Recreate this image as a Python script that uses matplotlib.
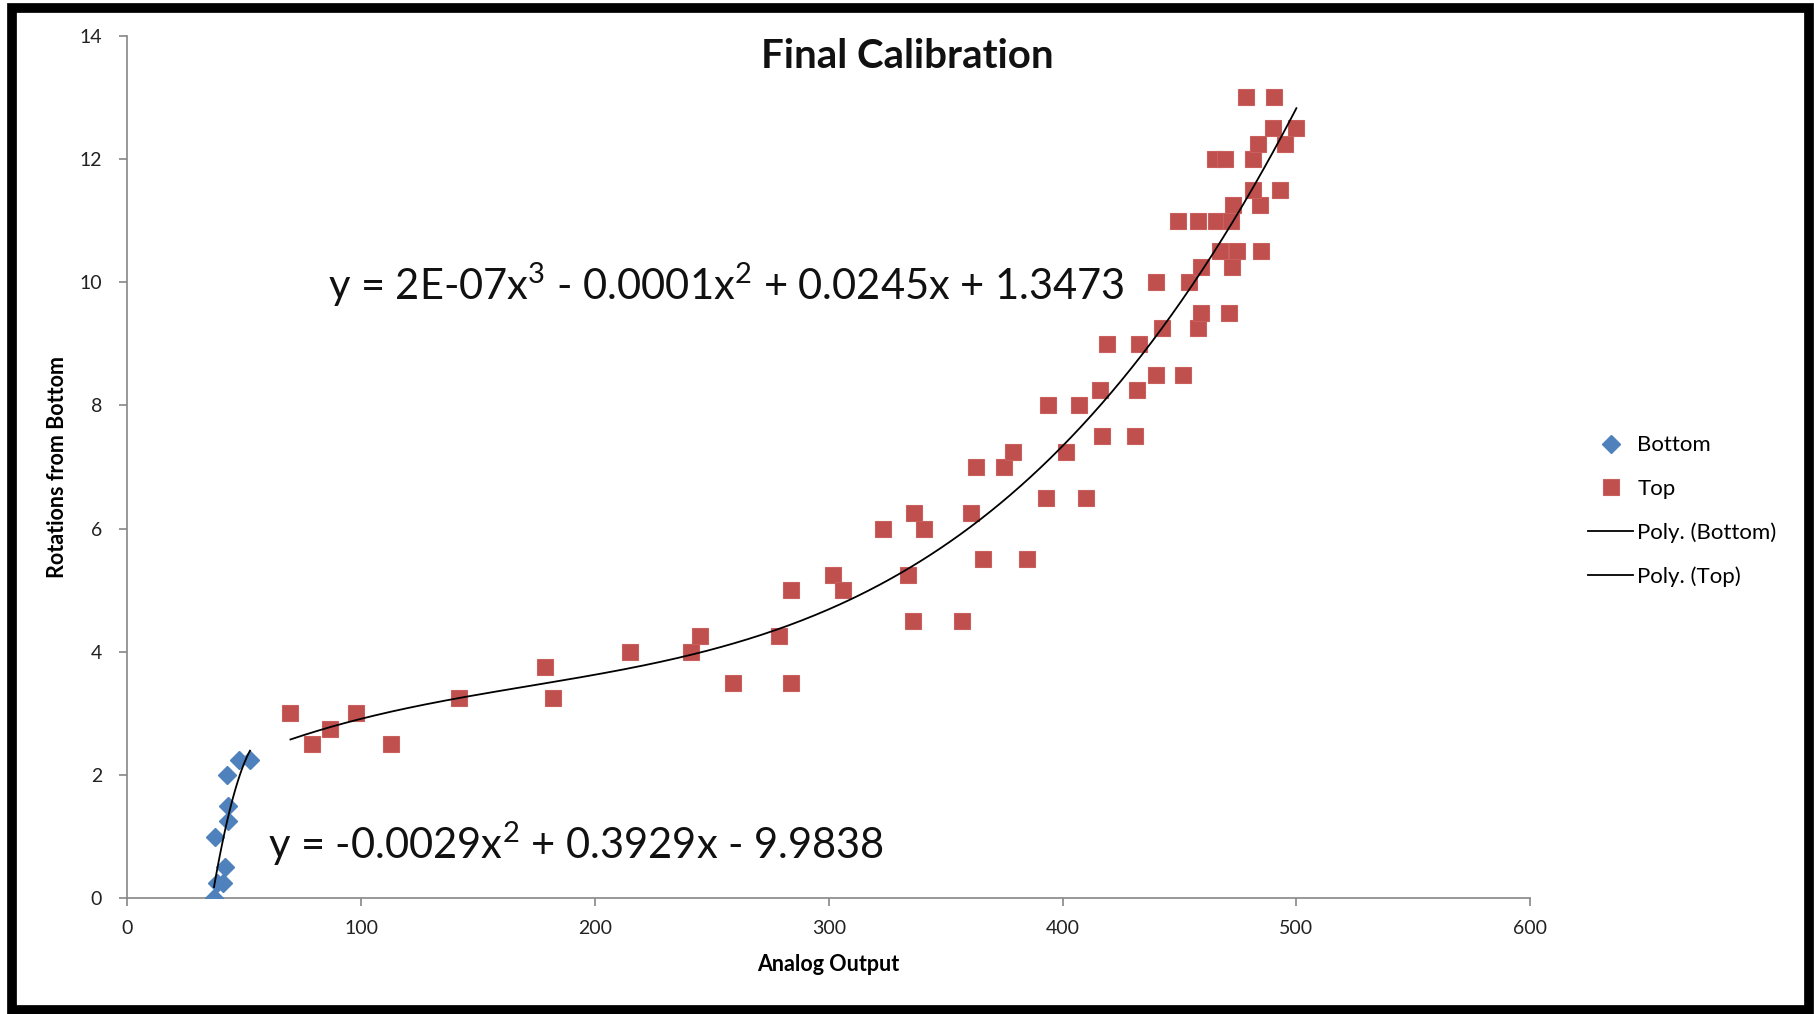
import numpy as np
import matplotlib
matplotlib.use("Agg")
import matplotlib.pyplot as plt
from matplotlib.patches import Rectangle

plt.rcParams["font.family"] = ["Lato", "DejaVu Sans"]
plt.rcParams["mathtext.fontset"] = "custom"
plt.rcParams["mathtext.rm"] = "Lato"
plt.rcParams["mathtext.it"] = "Lato"
plt.rcParams["mathtext.default"] = "regular"

# Bottom series (blue diamonds)
bottom_x = [37.1, 38.6, 41.0, 42.0, 37.6, 43.0, 43.0, 42.6, 48.0, 52.5]
bottom_y = [0.0, 0.25, 0.25, 0.5, 1.0, 1.25, 1.5, 2.0, 2.25, 2.25]

# Top series (red squares)
top_x = [69.8, 79.2, 86.6, 98.0, 113.0, 142.0, 178.7, 182.0, 215.0, 241.0,
         245.0, 259.0, 278.7, 283.7, 283.7, 302.0, 306.0, 323.0, 334.0, 336.0,
         336.6, 340.6, 357.0, 361.0, 363.0, 366.0, 375.0, 378.7, 384.7, 393.0,
         393.6, 401.5, 407.0, 410.0, 416.0, 417.0, 419.0, 431.0, 432.0, 432.7,
         440.0, 440.0, 442.5, 451.5, 449.5, 454.0, 458.0, 459.0, 459.0, 458.0,
         465.5, 472.0, 465.0, 469.5, 481.5, 467.5, 474.5, 485.0, 471.0, 472.5,
         473.0, 484.5, 478.5, 490.5, 481.5, 493.0, 483.6, 495.0, 490.0, 500.0]
top_y = [3.0, 2.5, 2.75, 3.0, 2.5, 3.25, 3.75, 3.25, 4.0, 4.0,
         4.25, 3.5, 4.25, 3.5, 5.0, 5.25, 5.0, 6.0, 5.25, 4.5,
         6.25, 6.0, 4.5, 6.25, 7.0, 5.5, 7.0, 7.25, 5.5, 6.5,
         8.0, 7.25, 8.0, 6.5, 8.25, 7.5, 9.0, 7.5, 8.25, 9.0,
         8.5, 10.0, 9.25, 8.5, 11.0, 10.0, 9.25, 9.5, 10.25, 11.0,
         11.0, 11.0, 12.0, 12.0, 12.0, 10.5, 10.5, 10.5, 9.5, 10.25,
         11.25, 11.25, 13.0, 13.0, 11.5, 11.5, 12.25, 12.25, 12.5, 12.5]

title = "Final Calibration"
eq_top = "y = 2E-07x$^{3}$ - 0.0001x$^{2}$ + 0.0245x + 1.3473"
eq_bottom = "y = -0.0029x$^{2}$ + 0.3929x - 9.9838"

fig = plt.figure(figsize=(18.15, 10.14), dpi=100)
ax = fig.add_axes([0.0701, 0.1142, 0.773, 0.8504])

ax.plot(bottom_x, bottom_y, "D", color="#4F81BD", ms=9, mec="#4F81BD", label="Bottom", zorder=3)
ax.plot(top_x, top_y, "s", color="#C0504D", ms=12, mec="#C9605D", mew=0.8, label="Top", zorder=3)

# polynomial trendlines like Excel
bx = np.linspace(min(bottom_x), max(bottom_x), 100)
bfit = np.polyfit(bottom_x, bottom_y, 2)
ax.plot(bx, np.polyval(bfit, bx), color="black", lw=1.3, label="Poly. (Bottom)", zorder=4)
tx = np.linspace(min(top_x), max(top_x), 300)
tfit = np.polyfit(top_x, top_y, 3)
ax.plot(tx, np.polyval(tfit, tx), color="black", lw=1.3, label="Poly. (Top)", zorder=4)

ax.set_xlim(0, 600)
ax.set_ylim(0, 14)
ax.set_xticks(range(0, 601, 100))
ax.set_yticks(range(0, 15, 2))
for s in ["top", "right"]:
    ax.spines[s].set_visible(False)
for s in ["left", "bottom"]:
    ax.spines[s].set_color("#868686")
    ax.spines[s].set_linewidth(1.2)
ax.tick_params(axis="both", colors="#868686", labelcolor="#222222", labelsize=14,
               length=6, width=1.2, direction="out")
ax.tick_params(axis="y", pad=12)
ax.tick_params(axis="x", pad=10)

ax.set_xlabel("Analog Output", fontsize=15.5, fontweight="bold", labelpad=12)
ax.set_ylabel("Rotations from Bottom", fontsize=15.5, fontweight="bold", labelpad=8)

fig.text(0.4997, 0.944, title, fontsize=29, fontweight="bold", ha="center", va="center", color="#111111")
ax.text(85.7, 9.95, eq_top, fontsize=30, ha="left", va="center", color="#111111")
ax.text(60.4, 0.88, eq_bottom, fontsize=30, ha="left", va="center", color="#111111")

ax.legend(loc="upper left", bbox_to_anchor=(0.8666, 0.586), bbox_transform=fig.transFigure,
          frameon=False, fontsize=16, handlelength=2.0, handletextpad=0.2,
          labelspacing=1.05, borderpad=0.2)

# black frame around the picture
fig.patches.append(Rectangle((12 / 1815, 4 / 1014), 1797 / 1815, 1002 / 1014, transform=fig.transFigure,
                             fill=False, ec="black", lw=7, zorder=10))

fig.savefig("out.png", dpi=100)
